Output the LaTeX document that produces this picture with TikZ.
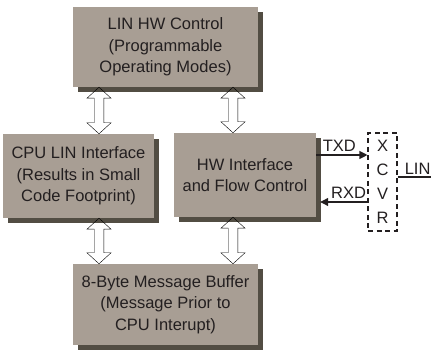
\documentclass[tikz,border=0pt]{standalone}
\usepackage{fontspec}
\setmainfont{Liberation Sans}
\usetikzlibrary{calc,shadows,arrows.meta}
\definecolor{boxgray}{RGB}{168,158,148}
\definecolor{shadegray}{RGB}{82,77,67}
\definecolor{inkgray}{RGB}{35,31,32}
\begin{document}
\begin{tikzpicture}
    [x=1pt,y=1pt,
     blk/.style={fill=boxgray,text=inkgray,align=center,inner sep=0pt,
       general shadow={fill=shadegray,shadow xshift=5pt,shadow yshift=-5pt},
       font=\fontsize{16.5}{21.5}\selectfont},
     bus/.style={draw=inkgray,fill=white,line width=1.1pt,line join=miter,
       to path={let \p1=(\tikztostart), \p2=(\tikztotarget) in
         (\x1,\y1) -- (\x1+12pt,\y1-11pt) -- (\x1+4.8pt,\y1-11pt)
         -- (\x1+4.8pt,\y2+11pt) -- (\x1+12pt,\y2+11pt) -- (\x1,\y2)
         -- (\x1-12pt,\y2+11pt) -- (\x1-4.8pt,\y2+11pt)
         -- (\x1-4.8pt,\y1-11pt) -- (\x1-12pt,\y1-11pt) -- cycle}},
     sig/.style={draw=inkgray,line width=1.1pt,-{Triangle[length=8pt,width=8pt]}},
     lbl/.style={text=inkgray,font=\fontsize{16.5}{21.5}\selectfont}]
    \useasboundingbox (0,0) rectangle (431,350);
    \node [blk,minimum width=185pt,minimum height=80pt] (ctrl) at (165.5,303)
      {LIN HW Control\\(Programmable\\Operating Modes)};
    \node [blk,minimum width=151pt,minimum height=84pt] (cpu) at (78.5,174)
      {CPU LIN Interface\\(Results in Small\\Code Footprint)};
    \node [blk,minimum width=142pt,minimum height=84pt] (hw) at (245,175)
      {HW Interface\\and Flow Control};
    \node [blk,minimum width=185pt,minimum height=81pt] (buf) at (165.5,45.5)
      {8-Byte Message Buffer\\(Message Prior to\\CPU Interupt)};
    \node [draw=inkgray,dash pattern=on 5pt off 3.5pt,line width=1.1pt,minimum width=29pt,
      minimum height=98pt,inner sep=0pt,align=center,text=inkgray,
      font=\fontsize{16.5}{24}\selectfont] (xcvr) at (382.5,168) {X\\C\\V\\R};
    \coordinate (lbus) at (99,0);
    \coordinate (rbus) at (233,0);
    \coordinate (lin) at (431,173);
    % bus arrows
    \draw (ctrl.south -| lbus) to [bus] (cpu.north -| lbus);
    \draw (ctrl.south -| rbus) to [bus] (hw.north -| rbus);
    \draw (cpu.south -| lbus) to [bus] (buf.north -| lbus);
    \draw (hw.south -| rbus) to [bus] (buf.north -| rbus);
    % signals to the transceiver
    \draw [sig] ([yshift=20pt]hw.east) -- node [lbl,above,pos=0.45,inner sep=3pt] {TXD}
      ([yshift=20pt]hw.east -| xcvr.west);
    \draw [sig] ([yshift=-27pt]hw.east -| xcvr.west) -- node [lbl,above,pos=0.4,inner sep=3pt] {RXD}
      ([xshift=4pt,yshift=-27pt]hw.east);
    \draw [draw=inkgray,line width=1.1pt] (xcvr.east |- lin) -- node [lbl,above,pos=0.6,inner sep=2pt] {LIN} (lin);
  \end{tikzpicture}
\end{document}
